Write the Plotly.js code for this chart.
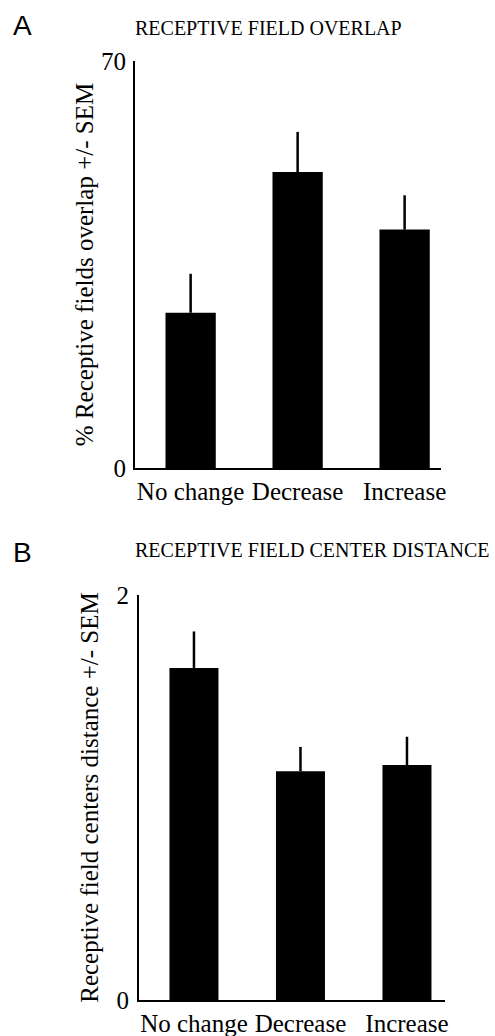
<!DOCTYPE html>
<html>
<head>
<meta charset="utf-8">
<script src="https://cdn.plot.ly/plotly-3.0.1.min.js"></script>
<style>html,body{margin:0;padding:0;background:#fff;}#chart{width:495px;height:1036px;}</style>
</head>
<body>
<div id="chart"></div>
<script>
// Data
const categories = ["No change", "Decrease", "Increase"];
const overlapMean = [26.7, 50.9, 41.0];
const overlapSEM = [6.7, 6.9, 5.9];
const distanceMean = [1.64, 1.13, 1.16];
const distanceSEM = [0.18, 0.12, 0.14];
const panelATitle = "RECEPTIVE FIELD OVERLAP";
const panelBTitle = "RECEPTIVE FIELD CENTER DISTANCE";
const panelAYLabel = "% Receptive fields overlap +/- SEM";
const panelBYLabel = "Receptive field centers distance +/- SEM";
const panelATicks = [0, 70];
const panelBTicks = [0, 2];

const W = 495, H = 1036;
const px = v => v / W;
const py = v => (H - v) / H;
const serif = "Liberation Serif, Times New Roman, serif";

const traces = [
  {
    type: "bar", x: categories, y: overlapMean, xaxis: "x", yaxis: "y",
    width: 0.47, marker: {color: "#000", line: {width: 0}},
    error_y: {type: "data", array: overlapSEM, arrayminus: [0,0,0], symmetric: false,
              visible: true, color: "#000", thickness: 2.5, width: 0},
    hoverinfo: "skip"
  },
  {
    type: "bar", x: categories, y: distanceMean, xaxis: "x2", yaxis: "y2",
    width: 0.46, marker: {color: "#000", line: {width: 0}},
    error_y: {type: "data", array: distanceSEM, arrayminus: [0,0,0], symmetric: false,
              visible: true, color: "#000", thickness: 2.5, width: 0},
    hoverinfo: "skip"
  }
];

const axisCommon = {
  showline: true, linecolor: "#000", linewidth: 2, showgrid: false, zeroline: false,
  ticks: "", tickfont: {family: serif, size: 25, color: "#000"}, fixedrange: true
};

const layout = {
  width: W, height: H,
  margin: {l: 0, r: 0, t: 0, b: 0},
  paper_bgcolor: "#fff", plot_bgcolor: "#fff",
  showlegend: false,
  font: {family: serif, color: "#000"},
  xaxis: Object.assign({}, axisCommon, {
    domain: [px(135), px(441)], anchor: "y", range: [-0.52, 2.34], type: "category"
  }),
  yaxis: Object.assign({}, axisCommon, {
    domain: [py(468), py(61)], anchor: "x", range: [0, 70],
    tickvals: panelATicks, ticktext: panelATicks.map(String), ticklabelstandoff: 2,
    title: {text: panelAYLabel, font: {family: serif, size: 25, color: "#000"}, standoff: 0}
  }),
  xaxis2: Object.assign({}, axisCommon, {
    domain: [px(139), px(445)], anchor: "y2", range: [-0.516, 2.357], type: "category"
  }),
  yaxis2: Object.assign({}, axisCommon, {
    domain: [py(1000), py(595)], anchor: "x2", range: [0, 2],
    tickvals: panelBTicks, ticktext: panelBTicks.map(String), ticklabelstandoff: 3,
    title: {text: panelBYLabel, font: {family: serif, size: 25, color: "#000"}, standoff: 11}
  }),
  annotations: [
    {text: "A", xref: "paper", yref: "paper", x: px(11), y: py(25), xanchor: "left", yanchor: "middle",
     showarrow: false, font: {family: "Liberation Sans, Arial, sans-serif", size: 28, color: "#000"}},
    {text: panelATitle, xref: "paper", yref: "paper", x: px(133), y: py(28), xanchor: "left", yanchor: "middle",
     showarrow: false, font: {family: serif, size: 20, color: "#000"}},
    {text: "B", xref: "paper", yref: "paper", x: px(11), y: py(552), xanchor: "left", yanchor: "middle",
     showarrow: false, font: {family: "Liberation Sans, Arial, sans-serif", size: 28, color: "#000"}},
    {text: panelBTitle, xref: "paper", yref: "paper", x: px(133), y: py(550), xanchor: "left", yanchor: "middle",
     showarrow: false, font: {family: serif, size: 20, color: "#000"}}
  ]
};

Plotly.newPlot("chart", traces, layout, {displayModeBar: false, staticPlot: true});
</script>
</body>
</html>
